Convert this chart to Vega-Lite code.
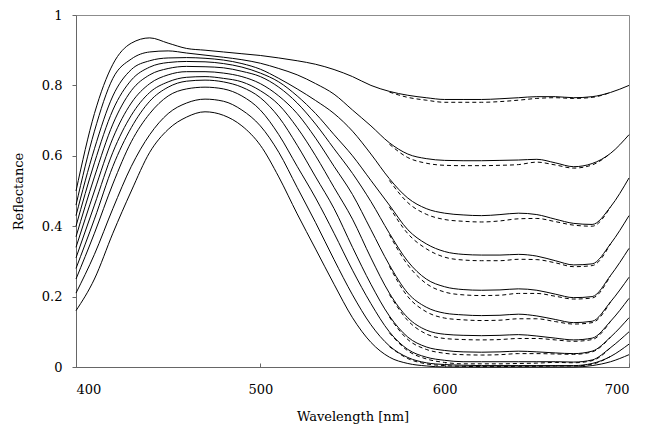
{
"$schema": "https://vega.github.io/schema/vega-lite/v6.json",
"width": 553, "height": 352,
"autosize": {"type": "none"},
"padding": {"left": 76, "top": 15, "right": 29, "bottom": 69},
"background": "white",
"config": {"view": {"stroke": "#8c8c8c", "strokeWidth": 1}, "font": "DejaVu Serif"},
"datasets": {
"solid": [
{"s":1,"w":400,"r":0.50},{"s":1,"w":410,"r":0.72},{"s":1,"w":420,"r":0.86},{"s":1,"w":430,"r":0.92},{"s":1,"w":440,"r":0.935},{"s":1,"w":450,"r":0.92},{"s":1,"w":460,"r":0.905},{"s":1,"w":470,"r":0.90},{"s":1,"w":480,"r":0.895},{"s":1,"w":490,"r":0.89},{"s":1,"w":500,"r":0.885},{"s":1,"w":510,"r":0.878},{"s":1,"w":520,"r":0.87},{"s":1,"w":530,"r":0.86},{"s":1,"w":540,"r":0.845},{"s":1,"w":550,"r":0.825},{"s":1,"w":560,"r":0.80},{"s":1,"w":570,"r":0.783},{"s":1,"w":580,"r":0.772},{"s":1,"w":590,"r":0.765},{"s":1,"w":600,"r":0.76},{"s":1,"w":610,"r":0.76},{"s":1,"w":620,"r":0.76},{"s":1,"w":630,"r":0.762},{"s":1,"w":640,"r":0.765},{"s":1,"w":650,"r":0.768},{"s":1,"w":660,"r":0.768},{"s":1,"w":670,"r":0.765},{"s":1,"w":680,"r":0.768},{"s":1,"w":690,"r":0.78},{"s":1,"w":700,"r":0.80},
{"s":2,"w":400,"r":0.46},{"s":2,"w":410,"r":0.67},{"s":2,"w":420,"r":0.82},{"s":2,"w":430,"r":0.875},{"s":2,"w":440,"r":0.895},{"s":2,"w":450,"r":0.898},{"s":2,"w":460,"r":0.892},{"s":2,"w":470,"r":0.886},{"s":2,"w":480,"r":0.88},{"s":2,"w":490,"r":0.873},{"s":2,"w":500,"r":0.863},{"s":2,"w":510,"r":0.848},{"s":2,"w":520,"r":0.83},{"s":2,"w":530,"r":0.805},{"s":2,"w":540,"r":0.775},{"s":2,"w":550,"r":0.73},{"s":2,"w":560,"r":0.685},{"s":2,"w":570,"r":0.637},{"s":2,"w":580,"r":0.605},{"s":2,"w":590,"r":0.592},{"s":2,"w":600,"r":0.587},{"s":2,"w":610,"r":0.586},{"s":2,"w":620,"r":0.586},{"s":2,"w":630,"r":0.587},{"s":2,"w":640,"r":0.588},{"s":2,"w":650,"r":0.59},{"s":2,"w":660,"r":0.58},{"s":2,"w":670,"r":0.569},{"s":2,"w":680,"r":0.578},{"s":2,"w":690,"r":0.607},{"s":2,"w":700,"r":0.66},
{"s":3,"w":400,"r":0.43},{"s":3,"w":410,"r":0.62},{"s":3,"w":420,"r":0.77},{"s":3,"w":430,"r":0.845},{"s":3,"w":440,"r":0.87},{"s":3,"w":450,"r":0.878},{"s":3,"w":460,"r":0.879},{"s":3,"w":470,"r":0.877},{"s":3,"w":480,"r":0.872},{"s":3,"w":490,"r":0.862},{"s":3,"w":500,"r":0.846},{"s":3,"w":510,"r":0.82},{"s":3,"w":520,"r":0.79},{"s":3,"w":530,"r":0.757},{"s":3,"w":540,"r":0.72},{"s":3,"w":550,"r":0.67},{"s":3,"w":560,"r":0.605},{"s":3,"w":570,"r":0.535},{"s":3,"w":580,"r":0.48},{"s":3,"w":590,"r":0.45},{"s":3,"w":600,"r":0.437},{"s":3,"w":610,"r":0.432},{"s":3,"w":620,"r":0.43},{"s":3,"w":630,"r":0.433},{"s":3,"w":640,"r":0.437},{"s":3,"w":650,"r":0.433},{"s":3,"w":660,"r":0.42},{"s":3,"w":670,"r":0.408},{"s":3,"w":680,"r":0.405},{"s":3,"w":690,"r":0.455},{"s":3,"w":700,"r":0.537},
{"s":4,"w":400,"r":0.40},{"s":4,"w":410,"r":0.58},{"s":4,"w":420,"r":0.73},{"s":4,"w":430,"r":0.815},{"s":4,"w":440,"r":0.852},{"s":4,"w":450,"r":0.865},{"s":4,"w":460,"r":0.868},{"s":4,"w":470,"r":0.867},{"s":4,"w":480,"r":0.862},{"s":4,"w":490,"r":0.852},{"s":4,"w":500,"r":0.835},{"s":4,"w":510,"r":0.81},{"s":4,"w":520,"r":0.77},{"s":4,"w":530,"r":0.72},{"s":4,"w":540,"r":0.66},{"s":4,"w":550,"r":0.60},{"s":4,"w":560,"r":0.53},{"s":4,"w":570,"r":0.46},{"s":4,"w":580,"r":0.39},{"s":4,"w":590,"r":0.35},{"s":4,"w":600,"r":0.328},{"s":4,"w":610,"r":0.32},{"s":4,"w":620,"r":0.318},{"s":4,"w":630,"r":0.318},{"s":4,"w":640,"r":0.32},{"s":4,"w":650,"r":0.315},{"s":4,"w":660,"r":0.302},{"s":4,"w":670,"r":0.29},{"s":4,"w":680,"r":0.293},{"s":4,"w":690,"r":0.35},{"s":4,"w":700,"r":0.43},
{"s":5,"w":400,"r":0.37},{"s":5,"w":410,"r":0.54},{"s":5,"w":420,"r":0.69},{"s":5,"w":430,"r":0.785},{"s":5,"w":440,"r":0.83},{"s":5,"w":450,"r":0.848},{"s":5,"w":460,"r":0.854},{"s":5,"w":470,"r":0.853},{"s":5,"w":480,"r":0.85},{"s":5,"w":490,"r":0.84},{"s":5,"w":500,"r":0.825},{"s":5,"w":510,"r":0.795},{"s":5,"w":520,"r":0.75},{"s":5,"w":530,"r":0.69},{"s":5,"w":540,"r":0.62},{"s":5,"w":550,"r":0.55},{"s":5,"w":560,"r":0.47},{"s":5,"w":570,"r":0.38},{"s":5,"w":580,"r":0.30},{"s":5,"w":590,"r":0.25},{"s":5,"w":600,"r":0.228},{"s":5,"w":610,"r":0.22},{"s":5,"w":620,"r":0.218},{"s":5,"w":630,"r":0.219},{"s":5,"w":640,"r":0.222},{"s":5,"w":650,"r":0.218},{"s":5,"w":660,"r":0.207},{"s":5,"w":670,"r":0.197},{"s":5,"w":680,"r":0.20},{"s":5,"w":690,"r":0.26},{"s":5,"w":700,"r":0.337},
{"s":6,"w":400,"r":0.34},{"s":6,"w":410,"r":0.50},{"s":6,"w":420,"r":0.65},{"s":6,"w":430,"r":0.75},{"s":6,"w":440,"r":0.805},{"s":6,"w":450,"r":0.83},{"s":6,"w":460,"r":0.839},{"s":6,"w":470,"r":0.839},{"s":6,"w":480,"r":0.835},{"s":6,"w":490,"r":0.825},{"s":6,"w":500,"r":0.805},{"s":6,"w":510,"r":0.77},{"s":6,"w":520,"r":0.72},{"s":6,"w":530,"r":0.65},{"s":6,"w":540,"r":0.57},{"s":6,"w":550,"r":0.49},{"s":6,"w":560,"r":0.39},{"s":6,"w":570,"r":0.29},{"s":6,"w":580,"r":0.21},{"s":6,"w":590,"r":0.17},{"s":6,"w":600,"r":0.153},{"s":6,"w":610,"r":0.148},{"s":6,"w":620,"r":0.146},{"s":6,"w":630,"r":0.147},{"s":6,"w":640,"r":0.15},{"s":6,"w":650,"r":0.145},{"s":6,"w":660,"r":0.135},{"s":6,"w":670,"r":0.126},{"s":6,"w":680,"r":0.13},{"s":6,"w":690,"r":0.185},{"s":6,"w":700,"r":0.255},
{"s":7,"w":400,"r":0.31},{"s":7,"w":410,"r":0.46},{"s":7,"w":420,"r":0.61},{"s":7,"w":430,"r":0.715},{"s":7,"w":440,"r":0.78},{"s":7,"w":450,"r":0.81},{"s":7,"w":460,"r":0.823},{"s":7,"w":470,"r":0.825},{"s":7,"w":480,"r":0.82},{"s":7,"w":490,"r":0.81},{"s":7,"w":500,"r":0.785},{"s":7,"w":510,"r":0.745},{"s":7,"w":520,"r":0.68},{"s":7,"w":530,"r":0.60},{"s":7,"w":540,"r":0.51},{"s":7,"w":550,"r":0.42},{"s":7,"w":560,"r":0.31},{"s":7,"w":570,"r":0.21},{"s":7,"w":580,"r":0.14},{"s":7,"w":590,"r":0.105},{"s":7,"w":600,"r":0.093},{"s":7,"w":610,"r":0.09},{"s":7,"w":620,"r":0.089},{"s":7,"w":630,"r":0.09},{"s":7,"w":640,"r":0.092},{"s":7,"w":650,"r":0.088},{"s":7,"w":660,"r":0.082},{"s":7,"w":670,"r":0.077},{"s":7,"w":680,"r":0.082},{"s":7,"w":690,"r":0.13},{"s":7,"w":700,"r":0.195},
{"s":8,"w":400,"r":0.28},{"s":8,"w":410,"r":0.42},{"s":8,"w":420,"r":0.57},{"s":8,"w":430,"r":0.68},{"s":8,"w":440,"r":0.755},{"s":8,"w":450,"r":0.795},{"s":8,"w":460,"r":0.812},{"s":8,"w":470,"r":0.815},{"s":8,"w":480,"r":0.81},{"s":8,"w":490,"r":0.795},{"s":8,"w":500,"r":0.765},{"s":8,"w":510,"r":0.71},{"s":8,"w":520,"r":0.63},{"s":8,"w":530,"r":0.54},{"s":8,"w":540,"r":0.45},{"s":8,"w":550,"r":0.34},{"s":8,"w":560,"r":0.235},{"s":8,"w":570,"r":0.145},{"s":8,"w":580,"r":0.085},{"s":8,"w":590,"r":0.057},{"s":8,"w":600,"r":0.047},{"s":8,"w":610,"r":0.043},{"s":8,"w":620,"r":0.042},{"s":8,"w":630,"r":0.043},{"s":8,"w":640,"r":0.045},{"s":8,"w":650,"r":0.043},{"s":8,"w":660,"r":0.04},{"s":8,"w":670,"r":0.038},{"s":8,"w":680,"r":0.045},{"s":8,"w":690,"r":0.085},{"s":8,"w":700,"r":0.14},
{"s":9,"w":400,"r":0.25},{"s":9,"w":410,"r":0.38},{"s":9,"w":420,"r":0.52},{"s":9,"w":430,"r":0.64},{"s":9,"w":440,"r":0.72},{"s":9,"w":450,"r":0.77},{"s":9,"w":460,"r":0.79},{"s":9,"w":470,"r":0.795},{"s":9,"w":480,"r":0.79},{"s":9,"w":490,"r":0.77},{"s":9,"w":500,"r":0.73},{"s":9,"w":510,"r":0.66},{"s":9,"w":520,"r":0.57},{"s":9,"w":530,"r":0.48},{"s":9,"w":540,"r":0.38},{"s":9,"w":550,"r":0.275},{"s":9,"w":560,"r":0.18},{"s":9,"w":570,"r":0.1},{"s":9,"w":580,"r":0.05},{"s":9,"w":590,"r":0.028},{"s":9,"w":600,"r":0.019},{"s":9,"w":610,"r":0.015},{"s":9,"w":620,"r":0.015},{"s":9,"w":630,"r":0.015},{"s":9,"w":640,"r":0.015},{"s":9,"w":650,"r":0.015},{"s":9,"w":660,"r":0.015},{"s":9,"w":670,"r":0.014},{"s":9,"w":680,"r":0.02},{"s":9,"w":690,"r":0.055},{"s":9,"w":700,"r":0.10},
{"s":10,"w":400,"r":0.21},{"s":10,"w":410,"r":0.32},{"s":10,"w":420,"r":0.45},{"s":10,"w":430,"r":0.57},{"s":10,"w":440,"r":0.66},{"s":10,"w":450,"r":0.72},{"s":10,"w":460,"r":0.75},{"s":10,"w":470,"r":0.761},{"s":10,"w":480,"r":0.755},{"s":10,"w":490,"r":0.73},{"s":10,"w":500,"r":0.685},{"s":10,"w":510,"r":0.61},{"s":10,"w":520,"r":0.51},{"s":10,"w":530,"r":0.41},{"s":10,"w":540,"r":0.305},{"s":10,"w":550,"r":0.205},{"s":10,"w":560,"r":0.12},{"s":10,"w":570,"r":0.06},{"s":10,"w":580,"r":0.027},{"s":10,"w":590,"r":0.012},{"s":10,"w":600,"r":0.007},{"s":10,"w":610,"r":0.005},{"s":10,"w":620,"r":0.004},{"s":10,"w":630,"r":0.004},{"s":10,"w":640,"r":0.004},{"s":10,"w":650,"r":0.004},{"s":10,"w":660,"r":0.004},{"s":10,"w":670,"r":0.004},{"s":10,"w":680,"r":0.01},{"s":10,"w":690,"r":0.03},{"s":10,"w":700,"r":0.065},
{"s":11,"w":400,"r":0.16},{"s":11,"w":410,"r":0.25},{"s":11,"w":420,"r":0.38},{"s":11,"w":430,"r":0.50},{"s":11,"w":440,"r":0.61},{"s":11,"w":450,"r":0.675},{"s":11,"w":460,"r":0.71},{"s":11,"w":470,"r":0.725},{"s":11,"w":480,"r":0.715},{"s":11,"w":490,"r":0.685},{"s":11,"w":500,"r":0.63},{"s":11,"w":510,"r":0.54},{"s":11,"w":520,"r":0.435},{"s":11,"w":530,"r":0.335},{"s":11,"w":540,"r":0.235},{"s":11,"w":550,"r":0.14},{"s":11,"w":560,"r":0.07},{"s":11,"w":570,"r":0.028},{"s":11,"w":580,"r":0.01},{"s":11,"w":590,"r":0.003},{"s":11,"w":600,"r":0},{"s":11,"w":610,"r":0},{"s":11,"w":620,"r":0},{"s":11,"w":630,"r":0},{"s":11,"w":640,"r":0},{"s":11,"w":650,"r":0},{"s":11,"w":660,"r":0},{"s":11,"w":670,"r":0},{"s":11,"w":680,"r":0.004},{"s":11,"w":690,"r":0.015},{"s":11,"w":700,"r":0.035}
],
"dashed": [
{"s":1,"w":570,"r":0.781},{"s":1,"w":580,"r":0.766},{"s":1,"w":590,"r":0.758},{"s":1,"w":600,"r":0.752},{"s":1,"w":610,"r":0.752},{"s":1,"w":620,"r":0.752},{"s":1,"w":630,"r":0.754},{"s":1,"w":640,"r":0.758},{"s":1,"w":650,"r":0.763},{"s":1,"w":660,"r":0.765},{"s":1,"w":670,"r":0.763},{"s":1,"w":680,"r":0.766},{"s":1,"w":690,"r":0.78},
{"s":2,"w":570,"r":0.633},{"s":2,"w":580,"r":0.595},{"s":2,"w":590,"r":0.579},{"s":2,"w":600,"r":0.573},{"s":2,"w":610,"r":0.572},{"s":2,"w":620,"r":0.572},{"s":2,"w":630,"r":0.573},{"s":2,"w":640,"r":0.575},{"s":2,"w":650,"r":0.582},{"s":2,"w":660,"r":0.574},{"s":2,"w":670,"r":0.565},{"s":2,"w":680,"r":0.574},{"s":2,"w":690,"r":0.607},
{"s":3,"w":570,"r":0.53},{"s":3,"w":580,"r":0.467},{"s":3,"w":590,"r":0.434},{"s":3,"w":600,"r":0.419},{"s":3,"w":610,"r":0.414},{"s":3,"w":620,"r":0.412},{"s":3,"w":630,"r":0.415},{"s":3,"w":640,"r":0.421},{"s":3,"w":650,"r":0.422},{"s":3,"w":660,"r":0.413},{"s":3,"w":670,"r":0.403},{"s":3,"w":680,"r":0.40},{"s":3,"w":690,"r":0.455},
{"s":4,"w":570,"r":0.455},{"s":4,"w":580,"r":0.379},{"s":4,"w":590,"r":0.336},{"s":4,"w":600,"r":0.312},{"s":4,"w":610,"r":0.304},{"s":4,"w":620,"r":0.302},{"s":4,"w":630,"r":0.302},{"s":4,"w":640,"r":0.306},{"s":4,"w":650,"r":0.305},{"s":4,"w":660,"r":0.296},{"s":4,"w":670,"r":0.285},{"s":4,"w":680,"r":0.288},{"s":4,"w":690,"r":0.35},
{"s":5,"w":570,"r":0.376},{"s":5,"w":580,"r":0.29},{"s":5,"w":590,"r":0.237},{"s":5,"w":600,"r":0.213},{"s":5,"w":610,"r":0.205},{"s":5,"w":620,"r":0.203},{"s":5,"w":630,"r":0.204},{"s":5,"w":640,"r":0.209},{"s":5,"w":650,"r":0.209},{"s":5,"w":660,"r":0.201},{"s":5,"w":670,"r":0.193},{"s":5,"w":680,"r":0.196},{"s":5,"w":690,"r":0.26},
{"s":6,"w":570,"r":0.286},{"s":6,"w":580,"r":0.20},{"s":6,"w":590,"r":0.157},{"s":6,"w":600,"r":0.139},{"s":6,"w":610,"r":0.134},{"s":6,"w":620,"r":0.132},{"s":6,"w":630,"r":0.133},{"s":6,"w":640,"r":0.137},{"s":6,"w":650,"r":0.137},{"s":6,"w":660,"r":0.129},{"s":6,"w":670,"r":0.122},{"s":6,"w":680,"r":0.126},{"s":6,"w":690,"r":0.185},
{"s":7,"w":570,"r":0.206},{"s":7,"w":580,"r":0.132},{"s":7,"w":590,"r":0.094},{"s":7,"w":600,"r":0.081},{"s":7,"w":610,"r":0.078},{"s":7,"w":620,"r":0.077},{"s":7,"w":630,"r":0.078},{"s":7,"w":640,"r":0.081},{"s":7,"w":650,"r":0.081},{"s":7,"w":660,"r":0.077},{"s":7,"w":670,"r":0.073},{"s":7,"w":680,"r":0.078},{"s":7,"w":690,"r":0.13},
{"s":8,"w":570,"r":0.142},{"s":8,"w":580,"r":0.078},{"s":8,"w":590,"r":0.05},{"s":8,"w":600,"r":0.039},{"s":8,"w":610,"r":0.035},{"s":8,"w":620,"r":0.034},{"s":8,"w":630,"r":0.035},{"s":8,"w":640,"r":0.038},{"s":8,"w":650,"r":0.038},{"s":8,"w":660,"r":0.037},{"s":8,"w":670,"r":0.036},{"s":8,"w":680,"r":0.043},{"s":8,"w":690,"r":0.085},
{"s":9,"w":570,"r":0.097},{"s":9,"w":580,"r":0.046},{"s":9,"w":590,"r":0.023},{"s":9,"w":600,"r":0.013},{"s":9,"w":610,"r":0.009},{"s":9,"w":620,"r":0.009},{"s":9,"w":630,"r":0.009},{"s":9,"w":640,"r":0.01},{"s":9,"w":650,"r":0.011},{"s":9,"w":660,"r":0.013},{"s":9,"w":670,"r":0.012},{"s":9,"w":680,"r":0.018},{"s":9,"w":690,"r":0.055},
{"s":10,"w":570,"r":0.058},{"s":10,"w":580,"r":0.024},{"s":10,"w":590,"r":0.009},{"s":10,"w":600,"r":0.004},{"s":10,"w":610,"r":0.002},{"s":10,"w":620,"r":0.001},{"s":10,"w":630,"r":0.001},{"s":10,"w":640,"r":0.002},{"s":10,"w":650,"r":0.002},{"s":10,"w":660,"r":0.003},{"s":10,"w":670,"r":0.003},{"s":10,"w":680,"r":0.008},{"s":10,"w":690,"r":0.03}
]
},
"encoding": {
  "x": {"field": "w", "type": "quantitative", "scale": {"domain": [400, 700], "nice": false},
        "axis": {"values": [400, 500, 600, 700], "grid": false, "title": "Wavelength [nm]", "domainColor": "#666666", "tickColor": "#666666", "tickSize": -4, "labelFont": "DejaVu Serif", "labelFontSize": 13, "labelColor": "#000000", "labelPadding": 20, "titleFont": "DejaVu Serif", "titleFontSize": 13, "titleFontWeight": "normal", "titleColor": "#000000", "titlePadding": 14}},
  "y": {"field": "r", "type": "quantitative", "scale": {"domain": [0, 1], "nice": false},
        "axis": {"values": [0, 0.2, 0.4, 0.6, 0.8, 1], "format": ".1~f", "grid": false, "title": "Reflectance", "domainColor": "#666666", "tickColor": "#666666", "tickSize": 4, "labelFont": "DejaVu Serif", "labelFontSize": 13, "labelColor": "#000000", "labelPadding": 10, "titleFont": "DejaVu Serif", "titleFontSize": 13, "titleFontWeight": "normal", "titleColor": "#000000", "titlePadding": 16}},
  "detail": {"field": "s", "type": "nominal"}
},
"layer": [
  {"data": {"name": "solid"}, "mark": {"type": "line", "color": "#000000", "strokeWidth": 1, "interpolate": "monotone"}},
  {"data": {"name": "dashed"}, "mark": {"type": "line", "color": "#000000", "strokeWidth": 1, "strokeDash": [4, 3], "interpolate": "monotone"}}
]
}
